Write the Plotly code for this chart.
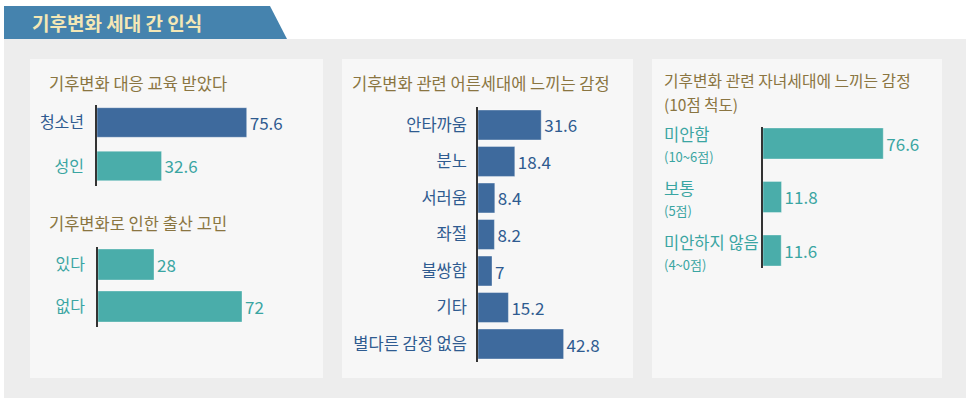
import plotly.graph_objects as go

# ---------------- data ----------------
header_title = "기후변화 세대 간 인식"

p1a_title = "기후변화 대응 교육 받았다"
p1a_cats = ["청소년", "성인"]
p1a_vals = [75.6, 32.6]

p1b_title = "기후변화로 인한 출산 고민"
p1b_cats = ["있다", "없다"]
p1b_vals = [28, 72]

p2_title = "기후변화 관련 어른세대에 느끼는 감정"
p2_cats = ["안타까움", "분노", "서러움", "좌절", "불쌍함", "기타", "별다른 감정 없음"]
p2_vals = [31.6, 18.4, 8.4, 8.2, 7, 15.2, 42.8]

p3_title = "기후변화 관련 자녀세대에 느끼는 감정"
p3_subtitle = "(10점 척도)"
p3_cats = ["미안함", "보통", "미안하지 않음"]
p3_sub = ["(10~6점)", "(5점)", "(4~0점)"]
p3_vals = [76.6, 11.8, 11.6]

# ---------------- styles ----------------
W, H = 970, 405
FONT = "Noto Sans CJK KR"
DARK = "#3e6a9d"
TEAL = "#4aadaa"
DARK_TXT = "#2f5b90"
TEAL_TXT = "#3aa5a2"
TITLE_C = "#8a7541"


def px(x):
    return x / W


def py(y):
    return 1 - y / H


fig = go.Figure()

# background shapes
shapes = [
    dict(type="rect", xref="paper", yref="paper", x0=px(4), x1=px(966), y0=py(398), y1=py(39),
         fillcolor="#ededed", line=dict(width=0), layer="below"),
    dict(type="path", xref="paper", yref="paper",
         path=f"M {px(4)},{py(6)} L {px(270)},{py(6)} L {px(287)},{py(39)} L {px(4)},{py(39)} Z",
         fillcolor="#4583ae", line=dict(width=0), layer="below"),
]
for x0, x1 in [(30, 323), (342, 633), (652, 942)]:
    shapes.append(dict(type="rect", xref="paper", yref="paper", x0=px(x0), x1=px(x1),
                       y0=py(378), y1=py(59), fillcolor="#f7f7f7", line=dict(width=0), layer="below"))


def fmt(v):
    return f"{v:g}"


def add_panel(idx, cats, vals, bar_colors, txt_colors, xdom, xrange, ydom, yrange, width, ticktext=None,
              label_size=16.5, standoff=6):
    sfx = "" if idx == 1 else str(idx)
    fig.add_trace(go.Bar(
        x=vals, y=cats, orientation="h",
        marker=dict(color=bar_colors, line=dict(color="rgba(255,255,255,0.35)", width=1)),
        width=width,
        text=[fmt(v) for v in vals], textposition="outside",
        textfont=dict(family=FONT, size=17, color=txt_colors),
        cliponaxis=False, showlegend=False, hoverinfo="skip",
        xaxis="x" + sfx, yaxis="y" + sfx,
    ))
    fig.layout["xaxis" + sfx] = dict(domain=[px(xdom[0]), px(xdom[1])], range=xrange, visible=False,
                                     anchor="y" + sfx, fixedrange=True)
    yax = dict(domain=[py(ydom[1]), py(ydom[0])], range=yrange, type="category",
               anchor="x" + sfx, showline=True, linecolor="#333333", linewidth=1.5,
               showgrid=False, zeroline=False, ticks="", fixedrange=True,
               tickfont=dict(family=FONT, size=label_size, color=txt_colors[0]))
    if ticktext is None:
        yax["showticklabels"] = False
    else:
        yax["tickvals"] = cats
        yax["ticktext"] = ticktext
        yax["ticklabelstandoff"] = standoff
    fig.layout["yaxis" + sfx] = yax


# panel 1a
add_panel(1, p1a_cats, p1a_vals, [DARK, TEAL], [DARK_TXT, TEAL_TXT],
          (97, 297), [0, 101], (105, 186), [1.46, -0.402], 0.68,
          ticktext=[f"<span style='color:{c}'>{t}</span>" for t, c in zip(p1a_cats, [DARK_TXT, TEAL_TXT])],
          label_size=16, standoff=8)
# panel 1b
add_panel(2, p1b_cats, p1b_vals, [TEAL] * len(p1b_vals), [TEAL_TXT] * len(p1b_vals),
          (98, 298), [0, 100], (247, 327), [1.488, -0.417], 0.74,
          ticktext=p1b_cats, label_size=16, standoff=8)
# panel 2
add_panel(3, p2_cats, p2_vals, [DARK] * len(p2_vals), [DARK_TXT] * len(p2_vals),
          (478, 678), [0, 100], (107, 362), [6.493, -0.493], 0.82,
          ticktext=p2_cats, label_size=16.5, standoff=6)
# panel 3
add_panel(4, p3_cats, p3_vals, [TEAL] * len(p3_vals), [TEAL_TXT] * len(p3_vals),
          (763, 920), [0, 100], (127, 268), [2.327, -0.308], 0.58,
          ticktext=None)

annotations = [
    dict(text=f"<b>{header_title}</b>", x=px(30), y=py(22), xref="paper", yref="paper",
         xanchor="left", yanchor="middle", showarrow=False,
         font=dict(family=FONT, size=19, color="#f4e7b5")),
]
for t, x, y, fs in [(p1a_title, 47, 83, 16.5), (p1b_title, 47, 223, 16.5), (p2_title, 350, 83, 16.5),
                    (p3_title, 662, 81, 15.8), (p3_subtitle, 662, 104, 15.5)]:
    annotations.append(dict(text=t, x=px(x), y=py(y), xref="paper", yref="paper",
                            xanchor="left", yanchor="middle", showarrow=False,
                            font=dict(family=FONT, size=fs, color=TITLE_C)))
for c, s in zip(p3_cats, p3_sub):
    annotations.append(dict(text=f"{c}<br><span style='font-size:13px'>{s}</span>", x=px(662), y=c,
                            xref="paper", yref="y4", xanchor="left", align="left",
                            yanchor="middle", yshift=-1, showarrow=False,
                            font=dict(family=FONT, size=16.5, color=TEAL_TXT)))

fig.update_layout(
    width=W, height=H, margin=dict(l=0, r=0, t=0, b=0),
    paper_bgcolor="white", plot_bgcolor="rgba(0,0,0,0)",
    shapes=shapes, annotations=annotations,
    font=dict(family=FONT), bargap=0.3,
)

fig.write_html("out.html")
